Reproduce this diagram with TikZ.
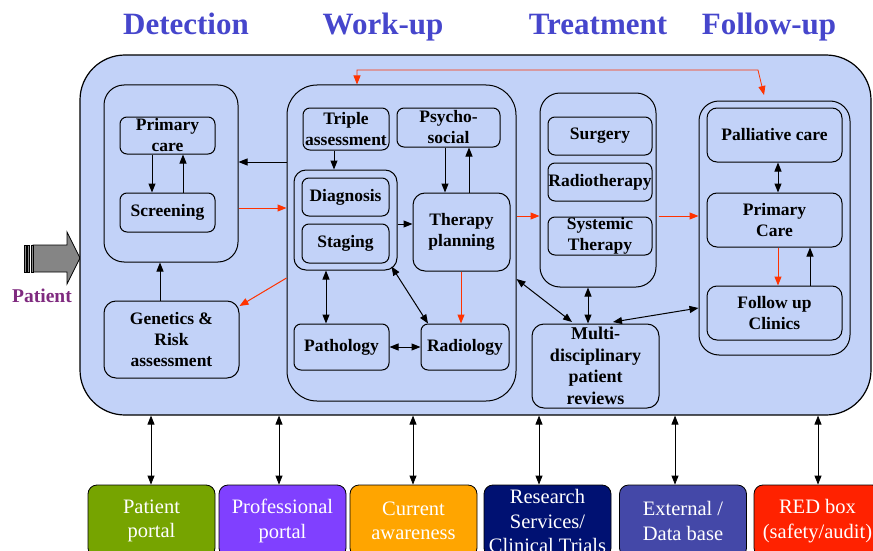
\documentclass[tikz,border=0pt]{standalone}
\usepackage{fontspec}
\setmainfont{Liberation Serif}
\usetikzlibrary{arrows.meta, calc}
\definecolor{pnblue}{HTML}{C2D2F8}
\definecolor{pnhead}{HTML}{4646CC}
\definecolor{pnred}{HTML}{FF3300}
\definecolor{pnpurple}{HTML}{7F2A7F}
\definecolor{pngreen}{HTML}{76A400}
\definecolor{pnviolet}{HTML}{8040FF}
\definecolor{pnorange}{HTML}{FFA500}
\definecolor{pnnavy}{HTML}{001172}
\definecolor{pnslate}{HTML}{4448A8}
\definecolor{pnredbox}{HTML}{FF2200}
\definecolor{pngray}{HTML}{858585}

\begin{document}
\begin{tikzpicture}[x=1pt, y=-1pt,
  every node/.style={font=\fontsize{17.5}{21}\selectfont\bfseries},
  box/.style={draw, fill=pnblue, rounded corners=7pt, align=center, inner sep=0pt, line width=1pt},
  group/.style={draw, fill=pnblue, rounded corners=20pt, line width=1pt},
  portal/.style={draw, rounded corners=9pt, align=center, inner sep=0pt, text=white, font=\fontsize{20.5}{24.5}\selectfont, minimum width=127pt, minimum height=72pt, line width=0.8pt},
  head/.style={text=pnhead, anchor=base, font=\fontsize{31}{34}\selectfont\bfseries},
  arr/.style={-{Triangle[length=9pt,width=7pt]}, line width=1pt},
  dbl/.style={{Triangle[length=9pt,width=7pt]}-{Triangle[length=9pt,width=7pt]}, line width=1pt},
]
\useasboundingbox (0,0) rectangle (873,551);
\clip (0,0) rectangle (873,551);

% phase headings
\node[head] (hdet) at (186,35) {Detection};
\node[head] (hwk) at (383,35) {Work-up};
\node[head] (htr) at (598,35) {Treatment};
\node[head] (hfol) at (769,35) {Follow-up};

% patient entry arrow
\draw[fill=pngray, line width=0.8pt] (33,245) -- (67,245) -- (67,232) -- (80,258) -- (67,284) -- (67,272) -- (33,272) -- cycle;
\foreach \sx in {24,27.5,31}
  \draw[fill=pngray, line width=0.8pt] (\sx,245) rectangle (\sx+2,272);
\node[text=pnpurple, font=\fontsize{19.5}{22}\selectfont\bfseries] (patient) at (42,296) {Patient};

% pathway panel
\node[draw, fill=pnblue, rounded corners=45pt, line width=1.2pt, minimum width=791pt, minimum height=360pt] (main) at (475.5,235) {};

% detection
\node[group, minimum width=134pt, minimum height=177pt] (det) at (171,173.5) {};
\node[box, minimum width=95pt, minimum height=37pt] (pcare) at (167.5,135.5) {Primary\\care};
\node[box, minimum width=95pt, minimum height=39pt] (screen) at (167.5,212.5) {Screening};
\node[box, rounded corners=12pt, minimum width=135pt, minimum height=77pt] (gen) at (171.5,339.5) {Genetics \&\\Risk\\assessment};

% work-up
\node[group, rounded corners=30pt, minimum width=229pt, minimum height=316pt] (wk) at (401.5,243) {};
\node[box, minimum width=86pt, minimum height=42pt] (triple) at (346,129) {Triple\\assessment};
\node[box, minimum width=103pt, minimum height=39pt] (psycho) at (448.5,127.5) {Psycho-\\social};
\node[box, rounded corners=12pt, minimum width=103pt, minimum height=100pt] (dsgrp) at (345.5,220) {};
\node[box, minimum width=87pt, minimum height=38pt] (diag) at (345.5,197) {Diagnosis};
\node[box, minimum width=87pt, minimum height=39pt] (stage) at (345.5,243.5) {Staging};
\node[box, rounded corners=12pt, minimum width=97pt, minimum height=78pt] (therapy) at (461.5,232) {Therapy\\planning};
\node[box, minimum width=95pt, minimum height=46pt] (patho) at (341.5,347) {Pathology};
\node[box, minimum width=88pt, minimum height=46pt] (radio) at (465,347) {Radiology};

% treatment
\node[group, minimum width=116pt, minimum height=194pt] (treat) at (598,190) {};
\node[box, minimum width=104pt, minimum height=38pt] (surg) at (600,136) {Surgery};
\node[box, minimum width=104pt, minimum height=38pt] (rtx) at (600,182) {\makebox[104pt]{Radiotherapy}};
\node[box, minimum width=104pt, minimum height=38pt] (syst) at (600,236) {Systemic\\Therapy};
\node[box, rounded corners=12pt, minimum width=127pt, minimum height=84pt, font=\fontsize{18}{21.5}\selectfont\bfseries] (mdt) at (595.5,366) {Multi-\\disciplinary\\patient\\reviews};

% follow-up
\node[group, minimum width=151pt, minimum height=254pt] (fol) at (774.5,228) {};
\node[box, rounded corners=10pt, minimum width=135pt, minimum height=54pt] (pall) at (774.5,135) {Palliative care};
\node[box, rounded corners=10pt, minimum width=135pt, minimum height=54pt] (prim) at (774.5,220) {Primary\\Care};
\node[box, rounded corners=10pt, minimum width=135pt, minimum height=54pt] (fuc) at (774.5,313) {Follow up\\Clinics};

% detection links
\draw[arr] (152,0 |- pcare.south) -- (152,0 |- screen.north);
\draw[arr] (183,0 |- screen.north) -- (183,0 |- pcare.south);
\draw[arr] (160,0 |- gen.north) -- (160,0 |- det.south);
\draw[arr] (wk.west |- 0,162) -- (det.east |- 0,162);
\draw[arr, pnred] (det.east |- 0,208) -- (wk.west |- 0,208);
\draw[arr, pnred] (wk.west |- 0,278) -- (gen.east |- 0,306);

% work-up links
\draw[arr] (334,0 |- triple.south) -- (334,0 |- dsgrp.north);
\draw[arr] (445,0 |- psycho.south) -- (445,0 |- therapy.north);
\draw[arr] (469,0 |- therapy.north) -- (469,0 |- psycho.south);
\draw[arr] (dsgrp.east |- 0,224) -- (therapy.west |- 0,224);
\draw[arr, pnred] (461,0 |- therapy.south) -- (461,0 |- radio.north);
\draw[dbl] (326,0 |- dsgrp.south) -- (326,0 |- patho.north);
\draw[dbl] ($(dsgrp.south east)+(-6,-4)$) -- (428,0 |- radio.north);
\draw[dbl] (patho.east) -- (radio.west);

% treatment and follow-up links
\draw[arr, pnred] (wk.east |- 0,216) -- (treat.west |- 0,216);
\draw[arr, pnred] ($(treat.east |- 0,216)+(2,0)$) -- (fol.west |- 0,216);
\draw[dbl] (588,0 |- treat.south) -- (588,0 |- mdt.north);
\draw[dbl] (wk.east |- 0,279) -- (572,322);
\draw[dbl] (613,322) -- (fol.west |- 0,308);
\draw[dbl] (778,0 |- pall.south) -- (778,0 |- prim.north);
\draw[arr, pnred] (778,0 |- prim.south) -- (778,0 |- fuc.north);
\draw[arr] (810,0 |- fuc.north) -- (810,0 |- prim.south);
\draw[dbl, pnred, line width=0.8pt] (357,0 |- wk.north) -- (357,70) -- (758,70) -- (764,95);

% support services
\node[portal, fill=pngreen] (pp) at (151.5,521) {Patient\\portal};
\node[portal, fill=pnviolet] (prof) at (282.5,521) {Professional\\portal};
\node[portal, fill=pnorange] (cur) at (413.5,521) {Current\\awareness};
\node[portal, fill=pnnavy] (res) at (547.5,521) {Research\\Services/\\Clinical Trials};
\node[portal, fill=pnslate] (ext) at (683,521) {External /\\Data base};
\node[portal, fill=pnredbox] (red) at (817.5,521) {RED box\\(safety/audit)};
\foreach \px/\pn in {151/pp, 279/prof, 413/cur, 539/res, 675/ext, 818/red}
  \draw[dbl, line width=0.8pt] (\px,0 |- main.south) -- (\px,0 |- \pn.north);
\end{tikzpicture}
\end{document}
